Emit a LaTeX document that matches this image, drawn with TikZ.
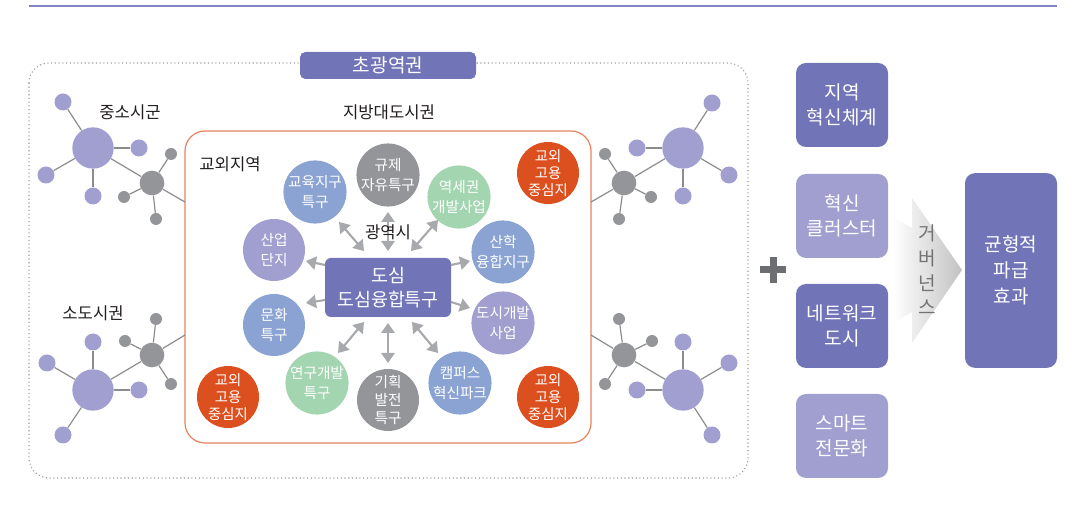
\documentclass[tikz,border=0pt]{standalone}
\usepackage{fontspec}
\setmainfont{Noto Sans CJK KR}
\usetikzlibrary{arrows.meta}
\definecolor{dpur}{HTML}{7274B8}
\definecolor{lpur}{HTML}{A09FCF}
\definecolor{blu}{HTML}{8AA3D3}
\definecolor{grn}{HTML}{A3D5B0}
\definecolor{gry}{HTML}{939598}
\definecolor{org}{HTML}{DC5020}
\definecolor{arr}{HTML}{A7A9AC}
\definecolor{edgec}{HTML}{8C8C8C}
\definecolor{txt}{HTML}{231F20}
\definecolor{plusc}{HTML}{6D6E71}
\definecolor{frame}{HTML}{E8805A}
\definecolor{topl}{HTML}{8083C4}
\tikzset{
  bub/.style={circle, minimum size=46.5pt, inner sep=0pt, text=white, align=center,
    font=\fontsize{11}{14.8}\selectfont},
  obub/.style={bub, fill=org, font=\fontsize{10.8}{12.8}\selectfont},
  hubbig/.style={circle, fill=lpur, minimum size=31pt, inner sep=0pt},
  sp/.style={circle, fill=lpur, minimum size=12.75pt, inner sep=0pt},
  hubg/.style={circle, fill=gry, minimum size=18.5pt, inner sep=0pt},
  sg/.style={circle, fill=gry, minimum size=9pt, inner sep=0pt},
  netl/.style={draw=edgec, line width=0.9pt},
  lbl/.style={text=txt, font=\fontsize{12.5}{15}\selectfont, inner sep=0pt},
  rbox/.style={rectangle, rounded corners=7.5pt, minimum width=69pt, minimum height=63pt,
    text=white, align=center, font=\fontsize{14.3}{19}\selectfont},
  darr/.style={draw=arr, line width=1.6pt, {Triangle[length=7.5pt,width=10pt]}-{Triangle[length=7.5pt,width=10pt]}},
  sarr/.style={draw=arr, line width=1.6pt, -{Triangle[length=7.5pt,width=10pt]}},
}
\begin{document}
\begin{tikzpicture}[x=0.75pt, y=-0.75pt]
\useasboundingbox (0,0) rectangle (1067,530);
% top rule
\coordinate (tl) at (29,6);
\coordinate (tr) at (1057,6);
\draw[topl, line width=0.8pt] (tl) -- (tr);
% dotted region
\draw[gray!80, dotted, line width=0.8pt, rounded corners=15pt] (29,63) rectangle (748,478);
\node[rectangle, fill=dpur, rounded corners=4pt, minimum width=132pt, minimum height=20.25pt,
  text=white, font=\fontsize{14.3}{16}\selectfont, inner sep=0pt] (title) at (388,65.5) {초광역권};
% inner frame
\draw[frame, line width=0.9pt, rounded corners=15pt] (185,131) rectangle (591,443);
% coordinates on inner frame
\coordinate (c1) at (185,202);
\coordinate (c2) at (591,202);
\coordinate (c3) at (185,335);
\coordinate (c4) at (591,335);

% network top-left
\node[hubbig] (A) at (93,148) {};
\node[sp] (A1) at (63,102) {};
\node[sp] (A2) at (139,148) {};
\node[sp] (A3) at (46,175) {};
\node[sp] (A4) at (93,196) {};
\node[hubg] (AG) at (152,183) {};
\node[sg] (AG1) at (171,154) {};
\node[sg] (AG2) at (124,197) {};
\node[sg] (AG3) at (156,219) {};
\foreach \n in {A1,A2,A3,A4,AG} \draw[netl] (A) -- (\n);
\foreach \n in {AG1,AG2,AG3} \draw[netl] (AG) -- (\n);
\draw[netl] (AG) -- (c1);

% network top-right
\node[hubbig] (B) at (683,148) {};
\node[sp] (B1) at (712,103) {};
\node[sp] (B2) at (637,148) {};
\node[sp] (B3) at (729,175) {};
\node[sp] (B4) at (683,196) {};
\node[hubg] (BG) at (624,183) {};
\node[sg] (BG1) at (605,154) {};
\node[sg] (BG2) at (651,197) {};
\node[sg] (BG3) at (619,219) {};
\foreach \n in {B1,B2,B3,B4,BG} \draw[netl] (B) -- (\n);
\foreach \n in {BG1,BG2,BG3} \draw[netl] (BG) -- (\n);
\draw[netl] (BG) -- (c2);

% network bottom-left
\node[hubbig] (C) at (93,390) {};
\node[sp] (C1) at (93,342) {};
\node[sp] (C2) at (47,363) {};
\node[sp] (C3) at (139,390) {};
\node[sp] (C4) at (63,435) {};
\node[hubg] (CG) at (152,355) {};
\node[sg] (CG1) at (156,319) {};
\node[sg] (CG2) at (125,341) {};
\node[sg] (CG3) at (171,384) {};
\foreach \n in {C1,C2,C3,C4,CG} \draw[netl] (C) -- (\n);
\foreach \n in {CG1,CG2,CG3} \draw[netl] (CG) -- (\n);
\draw[netl] (CG) -- (c3);

% network bottom-right
\node[hubbig] (D) at (683,390) {};
\node[sp] (D1) at (683,342) {};
\node[sp] (D2) at (729,363) {};
\node[sp] (D3) at (637,390) {};
\node[sp] (D4) at (712,435) {};
\node[hubg] (DG) at (624,355) {};
\node[sg] (DG1) at (619,319) {};
\node[sg] (DG2) at (652,341) {};
\node[sg] (DG3) at (605,384) {};
\foreach \n in {D1,D2,D3,D4,DG} \draw[netl] (D) -- (\n);
\foreach \n in {DG1,DG2,DG3} \draw[netl] (DG) -- (\n);
\draw[netl] (DG) -- (c4);

% center box
\node[rectangle, fill=dpur, rounded corners=4.5pt, minimum width=94.5pt, minimum height=44.25pt,
  text=white, align=center, font=\fontsize{13.8}{17.5}\selectfont, inner sep=0pt] (ctr) at (388,287.5) {도심\\도심융합특구};

% circles
\node[bub, fill=gry] (k1) at (388,175) {규제\\자유특구};
\node[bub, fill=blu] (k2) at (315,192) {교육지구\\특구};
\node[bub, fill=grn] (k3) at (459,197) {역세권\\개발사업};
\node[bub, fill=lpur] (k4) at (274,250) {산업\\단지};
\node[bub, fill=blu] (k5) at (503,252) {산학\\융합지구};
\node[bub, fill=blu] (k6) at (274,325) {문화\\특구};
\node[bub, fill=lpur] (k7) at (503,323) {도시개발\\사업};
\node[bub, fill=grn] (k8) at (317,383) {연구개발\\특구};
\node[bub, fill=gry, font=\fontsize{11}{13.4}\selectfont] (k9) at (388,400) {기획\\발전\\특구};
\node[bub, fill=blu] (k10) at (460,383) {캠퍼스\\혁신파크};
\node[obub] (o1) at (548,173) {교외\\고용\\중심지};
\node[obub] (o2) at (228,397) {교외\\고용\\중심지};
\node[obub] (o3) at (548,397) {교외\\고용\\중심지};

% arrows
\coordinate (a1s) at (388,212); \coordinate (a1e) at (388,251);
\coordinate (a2s) at (339,222); \coordinate (a2e) at (364,251);
\coordinate (a3s) at (438,220); \coordinate (a3e) at (411,251);
\coordinate (a4s) at (388,323); \coordinate (a4e) at (388,363);
\coordinate (a5s) at (364,322); \coordinate (a5e) at (338,353);
\coordinate (a6s) at (412,322); \coordinate (a6e) at (438,353);
\draw[darr] (a1s) -- (a1e);
\draw[darr] (a2s) -- (a2e);
\draw[darr] (a3s) -- (a3e);
\draw[darr] (a4s) -- (a4e);
\draw[darr] (a5s) -- (a5e);
\draw[darr] (a6s) -- (a6e);
\coordinate (b1s) at (325,265); \coordinate (b1e) at (306,261);
\coordinate (b2s) at (325,300); \coordinate (b2e) at (306,303);
\coordinate (b3s) at (451,265); \coordinate (b3e) at (470,261);
\coordinate (b4s) at (451,302); \coordinate (b4e) at (470,308);
\draw[sarr] (b1s) -- (b1e);
\draw[sarr] (b2s) -- (b2e);
\draw[sarr] (b3s) -- (b3e);
\draw[sarr] (b4s) -- (b4e);

% labels
\node[lbl] (l1) at (130,112) {중소시군};
\node[lbl] (l2) at (389,112) {지방대도시권};
\node[lbl] (l3) at (230,164) {교외지역};
\node[lbl] (l4) at (93,313) {소도시권};
\node[lbl] (l5) at (388,232) {광역시};

% plus
\fill[plusc] (760,266.5) rectangle (786,273.5);
\fill[plusc] (769.5,257) rectangle (776.5,283);

% right boxes
\node[rbox, fill=dpur] (r1) at (842,105) {지역\\혁신체계};
\node[rbox, fill=lpur] (r2) at (842,216) {혁신\\클러스터};
\node[rbox, fill=dpur] (r3) at (842,326) {네트워크\\도시};
\node[rbox, fill=lpur] (r4) at (842,436) {스마트\\전문화};

% governance chevron
\shade[left color=white, right color=black!24] (893,217) -- (912,228) -- (912,198) -- (962,270) -- (912,343) -- (912,312) -- (893,323) -- cycle;
\node[text=black!55, align=center, font=\fontsize{14.3}{18.5}\selectfont, inner sep=0pt] (gov) at (927,270) {거\\버\\넌\\스};

% result box
\node[rectangle, fill=dpur, rounded corners=7.5pt, minimum width=69pt, minimum height=146pt,
  text=white, align=center, font=\fontsize{14.3}{19.5}\selectfont, inner sep=0pt] (res) at (1011,270.5) {균형적\\파급\\효과};
\end{tikzpicture}
\end{document}
